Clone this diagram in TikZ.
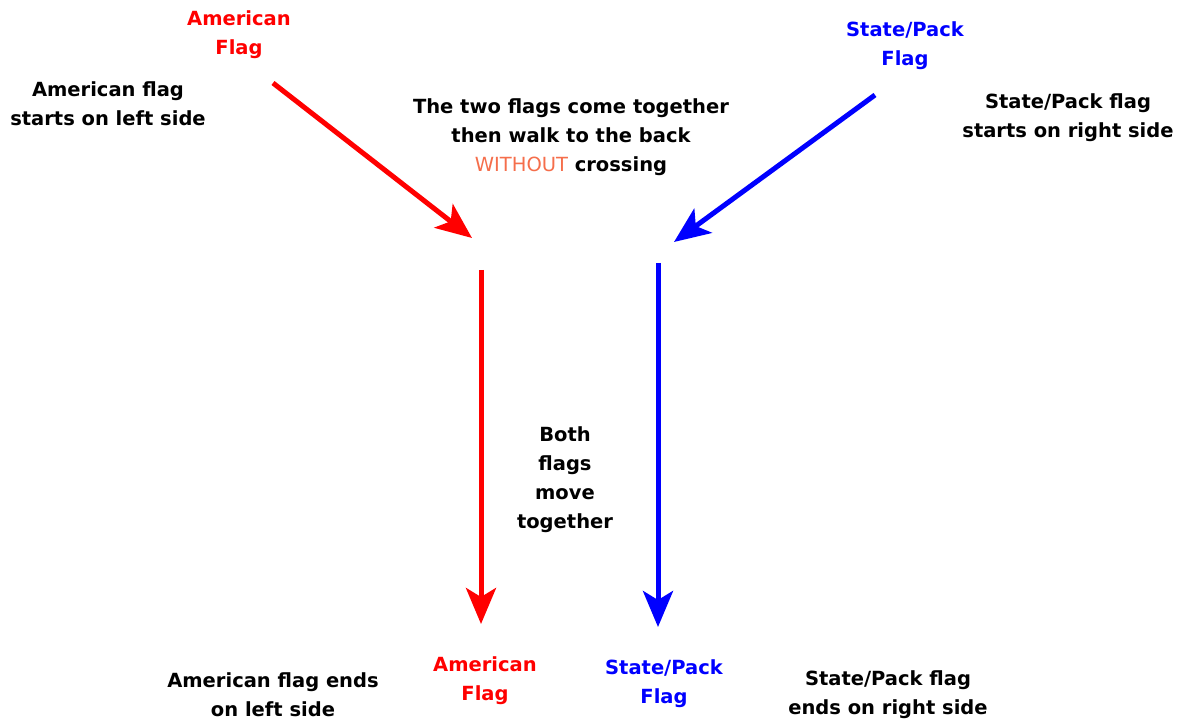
\documentclass[tikz,border=0pt]{standalone}
\usepackage{fontspec}
\setmainfont{DejaVu Sans}
\usetikzlibrary{arrows.meta}
\definecolor{flagred}{RGB}{255,0,0}
\definecolor{flagblue}{RGB}{0,0,255}
\definecolor{warn}{RGB}{245,110,75}
\begin{document}
\begin{tikzpicture}[x=1pt,y=-1pt,
  lbl/.style={align=center,inner sep=0pt,font=\fontsize{19.5}{29}\selectfont\bfseries},
  redarrow/.style={draw=flagred,line width=5pt,-{Stealth[length=36pt,width=30pt,inset=9pt]}},
  bluearrow/.style={draw=flagblue,line width=5pt,-{Stealth[length=36pt,width=30pt,inset=9pt]}}]
\useasboundingbox (0,0) rectangle (1181,722);
% coordinates
\coordinate (rs) at (273,83);
\coordinate (re) at (472,238);
\coordinate (bs) at (875,95);
\coordinate (be) at (674,242);
\coordinate (rvs) at (481,270);
\coordinate (rve) at (481,624);
\coordinate (bvs) at (658,263);
\coordinate (bve) at (658,627);
% arrows
\draw[redarrow] (rs) -- (re);
\draw[bluearrow] (bs) -- (be);
\draw[redarrow] (rvs) -- (rve);
\draw[bluearrow] (bvs) -- (bve);
% labels
\node[lbl,text=flagred] (af1) at (239,35) {American\\Flag};
\node[lbl] (al1) at (108,104) {American flag\\starts on left side};
\node[lbl] (mid) at (571,137) {The two flags come together\\then walk to the back\\{\mdseries\color{warn}WITHOUT} crossing};
\node[lbl,text=flagblue] (sf1) at (905,46) {State/Pack\\Flag};
\node[lbl] (sl1) at (1068,118) {State/Pack flag\\starts on right side};
\node[lbl] (both) at (565,480) {Both\\flags\\move\\together};
\node[lbl] (al2) at (273,695) {American flag ends\\on left side};
\node[lbl,text=flagred] (af2) at (485,681) {American\\Flag};
\node[lbl,text=flagblue] (sf2) at (664,684) {State/Pack\\Flag};
\node[lbl] (sl2) at (888,695) {State/Pack flag\\ends on right side};
\end{tikzpicture}
\end{document}
